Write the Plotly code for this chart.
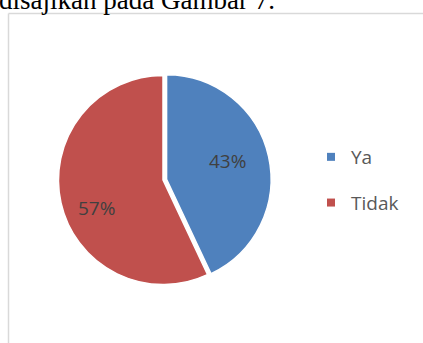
import plotly.graph_objects as go

# Survey answers and their shares (percent)
labels = ["Ya", "Tidak"]
values = [43, 57]
colors = ["#4f81bd", "#c0504d"]

W, H = 423, 343

# pie geometry in pixels
cx, cy, r = 163, 180, 104.5
pull = 0.035
half = r * (1 + pull)

# where each percentage label sits (pixels from top-left)
label_pos = [(227, 161), (96, 208)]

fig = go.Figure()

fig.add_trace(go.Pie(
    labels=labels,
    values=values,
    sort=False,
    direction="clockwise",
    rotation=0,
    pull=[pull, 0],
    marker=dict(colors=colors, line=dict(color="white", width=1.5)),
    textinfo="none",
    showlegend=False,
    hoverinfo="label+percent",
    domain=dict(x=[(cx - half) / W, (cx + half) / W],
                y=[1 - (cy + half) / H, 1 - (cy - half) / H]),
))

# legend entries as separate groups so their spacing can be set
for i, (lab, col) in enumerate(zip(labels, colors)):
    fig.add_trace(go.Scatter(
        x=[None], y=[None], mode="markers", name=lab,
        legendgroup=f"g{i}",
        marker=dict(symbol="square", size=8, color=col),
    ))

total = sum(values)
annotations = [
    dict(text="disajikan pada Gambar 7.", xref="paper", yref="paper",
         x=0, y=1, xanchor="left", yanchor="bottom",
         xshift=-3, yshift=-17, showarrow=False,
         font=dict(family="Liberation Serif", size=27, color="black")),
]
for v, (px, py) in zip(values, label_pos):
    annotations.append(dict(
        text=f"{round(100 * v / total)}%", xref="paper", yref="paper",
        x=px / W, y=1 - py / H, xanchor="center", yanchor="middle",
        showarrow=False,
        font=dict(family="Open Sans", size=19, color="#404040"),
    ))

fig.update_layout(
    width=W, height=H,
    margin=dict(l=0, r=0, t=0, b=0),
    paper_bgcolor="white",
    plot_bgcolor="white",
    xaxis=dict(visible=False),
    yaxis=dict(visible=False),
    legend=dict(
        x=311 / W, y=1 - 180 / H, xanchor="left", yanchor="middle",
        font=dict(family="Open Sans", size=19, color="#595959"),
        tracegroupgap=18,
        bgcolor="rgba(0,0,0,0)",
    ),
    shapes=[
        dict(type="line", xref="paper", yref="paper",
             x0=8.5 / W, x1=1, y0=1 - 13.5 / H, y1=1 - 13.5 / H,
             line=dict(color="#d9d9d9", width=1.5)),
        dict(type="line", xref="paper", yref="paper",
             x0=8.5 / W, x1=8.5 / W, y0=0, y1=1 - 13.5 / H,
             line=dict(color="#d9d9d9", width=1.5)),
    ],
    annotations=annotations,
)

fig.write_html("out.html")
